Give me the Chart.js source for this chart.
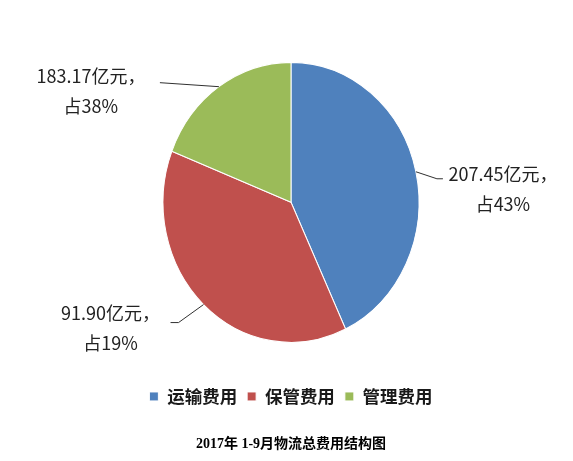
<!DOCTYPE html>
<html>
<head>
<meta charset="utf-8">
<script src="https://cdn.jsdelivr.net/npm/chart.js@4/dist/chart.umd.min.js"></script>
<style>
  html, body { margin: 0; padding: 0; background: #ffffff; }
  #wrap { width: 573px; height: 461px; }
</style>
</head>
<body>
<div id="wrap"><canvas id="costPie" width="573" height="461"></canvas></div>
<script>
// data
const categories = ["运输费用", "保管费用", "管理费用"];
const costs = [207.45, 183.17, 91.90];           // 亿元, drives slice size
const sliceColors = ["#4f81bd", "#c0504d", "#9bbb59"];
// label text exactly as printed next to each slice (blue, red, green)
const sliceLabels = [
  ["207.45亿元，", "占43%"],
  ["91.90亿元，", "占19%"],
  ["183.17亿元，", "占38%"]
];
const chartTitle = "2017年 1-9月物流总费用结构图";

// pie in the picture is a bit taller than wide
const ySquash = 140 / 128;

// leader line bends and text offsets, relative to the slice's mid-arc point
const labelLayout = [
  { bend: [[21, 7], [27, 7]], text: [87, 2] },
  { bend: [[-25, 18], [-33, 18]], text: [-93, 9] },
  { bend: [[-59, -4]], text: [-128, -11] }
];

const ellipsePlugin = {
  id: "ellipse",
  beforeDatasetsDraw(chart) {
    const arc = chart.getDatasetMeta(0).data[0];
    if (!arc) return;
    const ctx = chart.ctx;
    ctx.save();
    ctx.translate(arc.x, arc.y);
    ctx.scale(1, ySquash);
    ctx.translate(-arc.x, -arc.y);
  },
  afterDatasetsDraw(chart) {
    const ctx = chart.ctx;
    ctx.restore();
    // data labels with leader lines
    const meta = chart.getDatasetMeta(0);
    meta.data.forEach((arc, i) => {
      const p = arc.getProps(["x", "y", "startAngle", "endAngle", "outerRadius"], true);
      const mid = (p.startAngle + p.endAngle) / 2;
      const ax = p.x + Math.cos(mid) * p.outerRadius;
      const ay = p.y + Math.sin(mid) * p.outerRadius * ySquash;
      const lay = labelLayout[i];
      ctx.save();
      ctx.strokeStyle = "#303030";
      ctx.lineWidth = 1;
      ctx.beginPath();
      ctx.moveTo(ax, ay);
      lay.bend.forEach(b => ctx.lineTo(ax + b[0], ay + b[1]));
      ctx.stroke();
      ctx.fillStyle = "#222222";
      ctx.font = "18px 'Noto Sans CJK SC', 'Noto Sans', sans-serif";
      ctx.textAlign = "center";
      ctx.textBaseline = "middle";
      sliceLabels[i].forEach((line, k) => {
        ctx.fillText(line, ax + lay.text[0], ay + lay.text[1] + k * 30);
      });
      ctx.restore();
    });
  }
};

new Chart(document.getElementById("costPie"), {
  type: "pie",
  data: {
    labels: categories,
    datasets: [{
      data: costs,
      radius: 128,
      backgroundColor: sliceColors,
      borderColor: "#ffffff",
      borderWidth: 1
    }]
  },
  options: {
    responsive: false,
    animation: false,
    devicePixelRatio: 1,
    layout: { padding: { top: 27, bottom: 0, left: 9, right: 0 } },
    plugins: {
      tooltip: { enabled: false },
      legend: {
        position: "bottom",
        labels: {
          color: "#1a1a1a",
          boxWidth: 9,
          boxHeight: 9,
          padding: 10,
          font: { size: 17.5, weight: "bold", family: "'Noto Sans CJK SC', sans-serif" }
        }
      },
      title: {
        display: true,
        text: chartTitle,
        position: "bottom",
        color: "#000000",
        padding: { top: 21, bottom: 8 },
        font: { size: 14, weight: "bold", family: "'Liberation Serif', 'Noto Sans CJK SC', serif" }
      }
    }
  },
  plugins: [ellipsePlugin]
});
</script>
</body>
</html>
